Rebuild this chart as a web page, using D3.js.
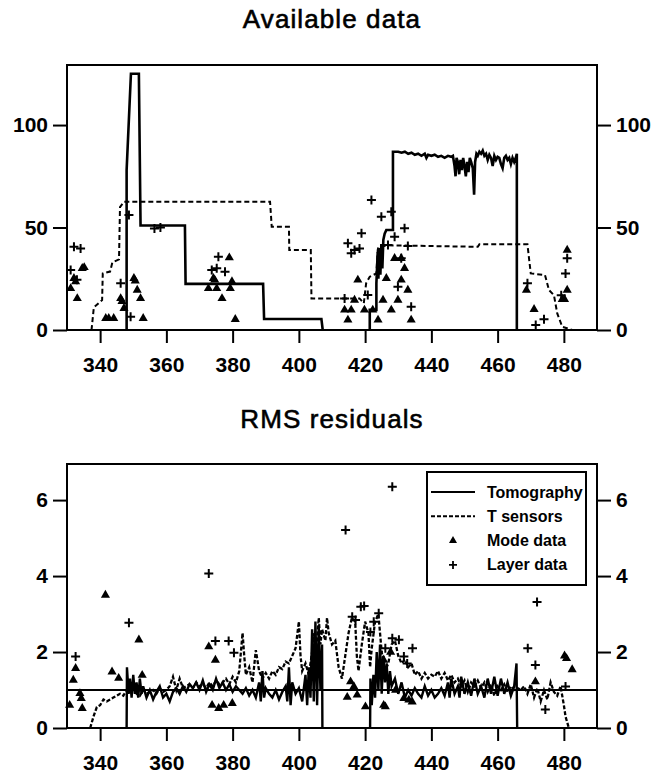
<!DOCTYPE html>
<html>
<head>
<script src="https://cdn.jsdelivr.net/npm/d3@7"></script>
<style>
  html, body { margin: 0; padding: 0; background: #fff; }
  svg text { font-family: "Liberation Sans", Arial, sans-serif; fill: #000; }
</style>
</head>
<body>
<script>
// ---- data ----
var xTicks = [340, 360, 380, 400, 420, 440, 460, 480];
var availTicks = [0, 50, 100];
var rmsTicks = [0, 2, 4, 6];

// available data: tomography (solid) and T sensors (dashed)
var tomoAvail1 = [[348,0],[348,78],[349.3,125],[351.7,125],[352.2,51],[365.6,51],[365.8,22.5],[389.2,22.5],[389.5,5.4],[406.8,5.4],[407.2,0]];
var tomoAvail2 = [[421.4,0],[421.4,9.8],[423.4,9.8],[423.4,22.8],[423.8,38],[424,25],[424.3,40],[424.6,27],[424.9,42],[425.2,30],[425.5,44],
  [425.9,47],[426.4,48.8],[428.4,48.8],[428.4,87],[430,87],[431,86.5],[432,87],[433,86],[434,86.5],[435,85.5],[436,86],[437,85],
  [438,86],[438.5,84],[439,85.5],[440,85],[441,85.5],[442,84.5],[443,85],[444,84],[445,85],[446,84.5],[446.5,85],[447,80],
  [447.3,75],[447.6,84],[448,82],[448.4,76],[448.8,83],[449.2,78],[449.6,84],[450,80],[450.4,75],[450.8,82],[451.2,77],
  [451.6,84],[452,82],[452.5,79],[452.9,66],[453.2,82],[453.6,86],[454,85],[454.5,87],[455,86],[455.5,87.5],[456,85],
  [456.5,86],[457,83],[457.5,85.5],[458,84],[458.5,80],[459,85],[459.5,83],[460,84.5],[460.5,84],[461,81],[461.5,79],
  [462,84],[462.5,85],[463,83],[463.5,84],[464,81],[464.5,84],[465,82],[465.5,84],[465.8,86],[465.8,0]];
var tsensAvail = [[337.4,0],[338.1,11],[340.6,14.6],[340.8,27.6],[343,28.5],[343.7,33],[345.7,34.5],[346,60],[347.2,62.6],
  [391.3,62.6],[391.8,50.4],[397,50.4],[397.1,39],[403.6,39],[403.8,15.4],[418.3,15.4],[419.6,13],[420.3,22.8],
  [421.4,26],[423.4,27.6],[423.8,39],[424,40.6],[427,41.3],[454,40.6],[454.5,41.8],[469,41.8],[470,27.6],
  [474.3,26.8],[475.5,19.5],[477,17],[478,8.1],[479.5,1.6],[482.5,0]];
var modeAvail = [[334.6,30.1],[335.2,30.5],[332.1,25.2],[332.6,23.6],[331.1,20.3],[333.1,15.4],[341.7,5.7],[342.6,5.7],
  [344.1,5.7],[346.2,15.4],[346.6,14],[347.2,10.6],[350.2,25.2],[350.6,24],[351.2,19.5],[352.2,15.4],[353,5.7],
  [379,35.3],[374.2,25.2],[374.6,24.4],[372.7,20.3],[375.2,20.3],[379.8,23.6],[379.3,20.3],[376.8,15.4],[380.8,5.2],
  [417.8,24.4],[416.8,14.6],[413.8,9.8],[415.8,9.8],[414.8,4.9],[419.8,9.8],[422.3,9.8],[423.9,4.9],[425.4,14.6],
  [426.4,25.2],[427.9,9.8],[428.9,35],[430.9,35],[431.9,30.1],[430.9,24.4],[432.9,19.5],[429.9,14.6],[433.9,4.9],
  [468.7,19.5],[471,10.1],[481,39],[481,19.5],[480.2,15],[479.5,15]];
var layerAvail = [[332.1,40.6],[334.1,39.8],[331.1,29.3],[333,24.5],[346.2,22.8],[348.7,56.1],[349.2,6.5],[356.4,49.5],
  [358.2,50],[375.7,35.8],[373.7,29.3],[375.2,30.1],[377.7,28.4],[421.9,63.4],[424.9,55.3],[427.9,57.7],[431.9,49.6],
  [428.9,45.5],[418.9,47.2],[414.8,42.3],[416.8,39],[415.8,37.4],[418.3,39.8],[432.9,41],[426.9,41.5],[430.9,35],
  [429.9,21.1],[420.8,17.1],[413.8,15.4],[433.9,11.4],[469,22.8],[471.5,2.4],[474,5.2],[481,35],[480.5,27.6],[479.2,17]];

// RMS residuals
var tomoRms1 = [[348,0],[348.1,1.6],[348.6,0.9],[349,1.3],[349.5,0.8],[350,1.4],[350.5,0.9],[351,1.2],[351.5,0.8],[352,1.3],
  [352.5,0.9],[353,1.1],[354,0.8],[355,1.0],[356,0.75],[357,0.95],[358,1.1],[359,0.8],[360,0.9],[361,0.7],[362,0.95],
  [363,1.05],[364,0.9],[365,1.1],[366,0.95],[367,1.15],[368,1.05],[369,1.2],[370,1.0],[371,1.25],[372,0.95],[373,1.15],
  [374,1.0],[375,1.3],[376,1.05],[377,1.2],[378,1.0],[379,1.15],[380,0.95],[381,1.1],[382,1.0],[383,0.9],[384,1.05],
  [385,0.85],[386,1.0],[387,0.8],[388,1.2],[388.5,0.7],[389,1.5],[389.5,0.8],[390,1.05],[391,0.9],[392,0.8],[393,1.0],
  [394,0.75],[395,0.95],[396,1.1],[396.5,0.7],[397,1.6],[397.5,0.6],[398,1.2],[399,0.9],[400,1.05],[401,0.7],[402,1.4],
  [402.5,0.6],[403,1.6],[403.5,0.8],[404,2.6],[404.5,0.7],[405,2.8],[405.5,0.6],[406,2.7],[406.5,1.0],[407,2.2],[407.1,0]];
var tomoRms2 = [[421.5,0],[421.6,1.3],[422,0.6],[422.5,1.4],[423,0.8],[423.5,2.0],[424,1.0],[424.5,2.2],[425,0.9],[425.5,1.9],
  [426,1.2],[426.5,1.7],[427,0.9],[427.5,1.5],[428,1.1],[429,1.3],[430,0.9],[431,1.2],[432,0.8],[433,1.0],[434,0.85],
  [435,1.05],[436,0.9],[437,0.8],[438,1.1],[439,0.85],[440,1.0],[441,0.8],[442,0.9],[443,1.05],[444,0.85],[445,1.2],
  [445.5,0.8],[446,1.3],[447,0.9],[448,1.1],[448.5,0.8],[449,1.35],[450,0.9],[451,1.2],[452,0.85],[453,1.3],[454,0.9],
  [455,1.1],[456,0.8],[457,1.3],[458,0.9],[459,1.35],[460,0.85],[461,1.3],[462,0.9],[463,1.2],[464,0.85],[465,1.1],
  [465.7,1.7],[465.9,0]];
var tsensRms = [[337,0],[338,0.3],[339,0.55],[340,0.6],[341,0.75],[342,0.7],[343,0.75],[344,0.8],[345,0.85],[346,0.9],
  [347,0.85],[348,1.0],[349,0.95],[350,1.1],[351,0.9],[352,0.85],[353,1.0],[354,0.9],[355,0.95],[356,1.0],[357,0.9],
  [358,1.05],[359,0.95],[360,1.0],[361,1.1],[362,1.35],[363,1.0],[364,1.3],[365,1.05],[366,1.1],[367,1.15],[368,1.05],
  [369,1.2],[370,1.1],[371,1.15],[372,1.05],[373,1.2],[374,1.1],[375,1.25],[376,1.15],[377,1.2],[378,1.3],[379,1.15],
  [380,1.35],[381,1.2],[382,1.5],[382.5,2.0],[383,2.5],[383.5,1.9],[384,1.4],[385,1.6],[386,1.2],[387,2.05],[388,1.5],
  [389,1.3],[390,1.45],[391,1.3],[392,1.5],[393,1.4],[394,1.6],[395,1.55],[396,1.75],[397,1.7],[398,1.9],[399,2.1],
  [400,2.8],[400.5,1.9],[401,1.5],[402,1.7],[403,1.4],[404,2.0],[404.5,2.5],[405,1.8],[406,2.9],[406.5,2.2],[407,2.6],
  [408,2.3],[408.5,2.9],[409,2.5],[410,2.2],[411,2.3],[412,1.6],[413,1.3],[414,1.9],[415,2.5],[416,2.9],[417,2.8],
  [417.5,1.9],[418,1.5],[419,2.2],[420,2.8],[421,2.5],[421.5,1.6],[422,2.1],[423,2.8],[424,3.0],[425,2.0],[426,1.5],
  [427,1.7],[428,2.2],[429,2.3],[430,1.9],[431,1.7],[432,1.8],[433,1.6],[434,1.7],[435,1.4],[436,1.5],[437,1.3],
  [438,1.45],[439,1.3],[440,1.4],[441,1.35],[442,1.5],[443,1.3],[444,1.45],[445,1.25],[446,1.4],[447,1.2],[448,1.3],
  [449,1.1],[450,1.25],[451,0.95],[452,1.2],[453,1.1],[454,1.25],[455,1.05],[456,1.2],[457,0.95],[458,1.15],[459,0.85],
  [460,1.1],[461,1.0],[462,1.15],[463,0.95],[464,1.1],[465,1.0],[466,1.05],[467,1.0],[468,1.1],[469,0.9],[470,1.15],
  [471,0.8],[472,1.05],[473,0.7],[474,1.0],[475,0.75],[476,1.2],[477,0.95],[478,0.85],[479,1.1],[480,0.6],[480.5,0.3],
  [481,0.15],[481.5,0]];
var modeRms = [[332.6,1.57],[331.9,1.26],[333.9,0.91],[334.3,0.78],[330.8,0.6],[334.6,0.52],[341.6,3.5],[351.7,2.32],
  [343.6,1.48],[345.6,1.31],[352.7,1.39],[372.8,2.14],[374.8,1.79],[373.8,0.6],[375.8,0.52],[377.3,0.6],[379.9,0.65],
  [415.6,1.22],[416.6,1.09],[414.6,0.81],[417.6,0.87],[420.1,0.56],[426.1,0.56],[429.2,1.0],[431.7,0.78],[434.2,0.69],
  [427.7,2.0],[425.6,1.79],[433.2,0.74],[425.6,0.6],[471.4,1.22],[480.2,1.9],[480.8,1.83],[482.5,1.54]];
var layerRms = [[332.6,1.88],[348.7,2.77],[372.8,4.07],[374.8,2.29],[378.8,2.29],[380.4,1.98],[414.1,5.21],[428.2,6.35],
  [418.7,3.19],[419.7,3.21],[416.1,2.93],[417.1,2.84],[422.6,2.8],[424.1,3.02],[421.6,2.53],[428.2,2.36],[430.2,2.32],
  [434.3,2.1],[426.1,2.1],[431.7,1.88],[432.7,1.7],[471.9,3.32],[469.1,2.1],[471.4,1.66],[474.4,0.49],[480.5,1.09]];
var rmsRef = 1;

var legendItems = [
  { label: "Tomography", kind: "solid" },
  { label: "T sensors", kind: "dash" },
  { label: "Mode data", kind: "tri" },
  { label: "Layer data", kind: "plus" }
];

// ---- drawing ----
var width = 668, height = 776;
var left = 67, right = 597;

var svg = d3.select("body").append("svg")
  .attr("width", width)
  .attr("height", height);

var x = d3.scaleLinear().domain([330, 490]).range([left, right]);

var triPath = d3.symbol().type(d3.symbolTriangle).size(36)();
var plusPath = "M-4.5,0H4.5M0,-4.5V4.5";

function drawPanel(opts) {
  var y = d3.scaleLinear().domain(opts.yDomain).range([opts.bottom, opts.top]);
  var g = svg.append("g");

  // title
  svg.append("text")
    .attr("x", (left + right) / 2)
    .attr("y", opts.titleY)
    .attr("text-anchor", "middle")
    .attr("stroke", "#000").attr("stroke-width", 0.6)
    .style("font-size", "26px")
    .style("letter-spacing", "1.1px")
    .text(opts.title);

  // axes
  var ax = g.append("g").attr("transform", "translate(0," + opts.bottom + ")")
    .call(d3.axisBottom(x).tickValues(xTicks).tickSize(13).tickPadding(14).tickSizeOuter(0));
  var ayl = g.append("g").attr("transform", "translate(" + left + ",0)")
    .call(d3.axisLeft(y).tickValues(opts.yTicks).tickFormat(d3.format("d")).tickSize(14).tickPadding(5).tickSizeOuter(0));
  var ayr = g.append("g").attr("transform", "translate(" + right + ",0)")
    .call(d3.axisRight(y).tickValues(opts.yTicks).tickFormat(d3.format("d")).tickSize(14).tickPadding(5).tickSizeOuter(0));
  [ax, ayl, ayr].forEach(function(a) {
    a.select(".domain").remove();
    a.selectAll(".tick line").attr("stroke", "#000").attr("stroke-width", 2);
    a.selectAll(".tick text")
      .attr("fill", "#000")
      .style("font-size", "21px")
      .style("font-weight", "bold")
      .style("font-family", "'Liberation Sans', Arial, sans-serif");
  });

  // frame
  g.append("rect")
    .attr("x", left).attr("y", opts.top)
    .attr("width", right - left).attr("height", opts.bottom - opts.top)
    .attr("fill", "none").attr("stroke", "#000").attr("stroke-width", 2);

  var line = d3.line().x(function(d) { return x(d[0]); }).y(function(d) { return y(d[1]); });

  var plot = g.append("g");
  return { y: y, g: plot, line: line };
}

function drawMarkers(p, tri, plus) {
  p.g.selectAll(null).data(tri).enter().append("path")
    .attr("d", triPath)
    .attr("transform", function(d) { return "translate(" + x(d[0]) + "," + p.y(d[1]) + ")"; })
    .attr("fill", "#000");
  p.g.selectAll(null).data(plus).enter().append("path")
    .attr("d", plusPath)
    .attr("transform", function(d) { return "translate(" + x(d[0]) + "," + p.y(d[1]) + ")"; })
    .attr("fill", "none").attr("stroke", "#000").attr("stroke-width", 2);
}

// top panel: available data
var availPanel = drawPanel({ title: "Available data", titleY: 28, top: 65, bottom: 330,
  yDomain: [0, 129.3], yTicks: availTicks });

availPanel.g.append("path").datum(tsensAvail)
  .attr("d", availPanel.line).attr("fill", "none").attr("stroke", "#000")
  .attr("stroke-width", 2).attr("stroke-dasharray", "5,3");
[tomoAvail1, tomoAvail2].forEach(function(s) {
  availPanel.g.append("path").datum(s)
    .attr("d", availPanel.line).attr("fill", "none").attr("stroke", "#000")
    .attr("stroke-width", 2.6).attr("stroke-linejoin", "miter");
});
drawMarkers(availPanel, modeAvail, layerAvail);

// bottom panel: RMS residuals
var rmsPanel = drawPanel({ title: "RMS residuals", titleY: 428, top: 464, bottom: 728,
  yDomain: [0, 6.95], yTicks: rmsTicks });

rmsPanel.g.append("line")
  .attr("x1", left).attr("x2", right)
  .attr("y1", rmsPanel.y(rmsRef)).attr("y2", rmsPanel.y(rmsRef))
  .attr("stroke", "#000").attr("stroke-width", 2);
rmsPanel.g.append("path").datum(tsensRms)
  .attr("d", rmsPanel.line).attr("fill", "none").attr("stroke", "#000")
  .attr("stroke-width", 2.3).attr("stroke-dasharray", "4,2");
[tomoRms1, tomoRms2].forEach(function(s) {
  rmsPanel.g.append("path").datum(s)
    .attr("d", rmsPanel.line).attr("fill", "none").attr("stroke", "#000")
    .attr("stroke-width", 2.4);
});
drawMarkers(rmsPanel, modeRms, layerRms);

// legend
var lg = svg.append("g").attr("transform", "translate(427,472)");
lg.append("rect").attr("width", 159).attr("height", 113)
  .attr("fill", "#fff").attr("stroke", "#000").attr("stroke-width", 2);
legendItems.forEach(function(it, i) {
  var cy = 20 + i * 24.3;
  if (it.kind === "solid" || it.kind === "dash") {
    lg.append("line").attr("x1", 4).attr("x2", 48).attr("y1", cy).attr("y2", cy)
      .attr("stroke", "#000").attr("stroke-width", 2)
      .attr("stroke-dasharray", it.kind === "dash" ? "4,2" : null);
  } else if (it.kind === "tri") {
    lg.append("path").attr("d", d3.symbol().type(d3.symbolTriangle).size(28)())
      .attr("transform", "translate(26," + cy + ")").attr("fill", "#000");
  } else {
    lg.append("path").attr("d", "M-4,0H4M0,-4V4")
      .attr("transform", "translate(26," + cy + ")")
      .attr("fill", "none").attr("stroke", "#000").attr("stroke-width", 1.8);
  }
  lg.append("text").attr("x", 60).attr("y", cy + 5.5)
    .style("font-size", "16px")
    .style("font-weight", "bold")
    .text(it.label);
});
</script>
</body>
</html>
